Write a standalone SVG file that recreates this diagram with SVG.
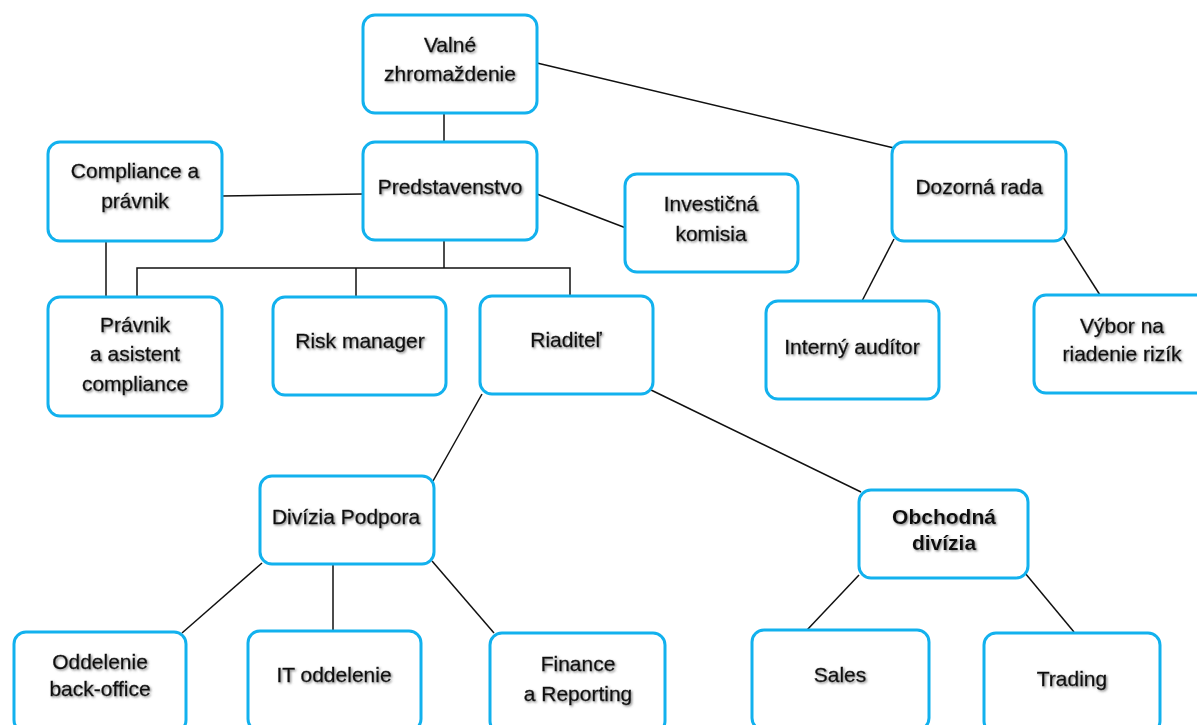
<svg xmlns="http://www.w3.org/2000/svg" width="1197" height="725" viewBox="0 0 1197 725">
<defs>
<filter id="sh" x="-10%" y="-30%" width="120%" height="160%">
<feDropShadow dx="1.3" dy="1.3" stdDeviation="0.8" flood-color="#6f6f6f" flood-opacity="0.85"/>
</filter>
<style>
.box{fill:#fff;stroke:#12B1EE;stroke-width:3}
.t{font-family:"Liberation Sans",Arial,sans-serif;font-size:21px;fill:#111;stroke:#111;stroke-width:0.35;text-anchor:middle;filter:url(#sh)}
.b{font-weight:bold;stroke-width:0}
.c{stroke:#111;stroke-width:1.5;fill:none}
</style>
</defs>
<rect width="1197" height="725" fill="#fff"/>
<g id="connectors">
<line class="c" x1="444" y1="113" x2="444" y2="142"/>
<line class="c" x1="537" y1="63" x2="894" y2="148"/>
<line class="c" x1="363" y1="194" x2="222" y2="196"/>
<line class="c" x1="537" y1="194" x2="626" y2="228"/>
<line class="c" x1="106" y1="241" x2="106" y2="297"/>
<polyline class="c" points="444,240 444,268"/>
<polyline class="c" points="137,297 137,268 570,268 570,297"/>
<line class="c" x1="356" y1="268" x2="356" y2="297"/>
<line class="c" x1="894" y1="239" x2="862" y2="301"/>
<line class="c" x1="1063" y1="237" x2="1100" y2="295"/>
<line class="c" x1="482" y1="394" x2="433" y2="481"/>
<line class="c" x1="651" y1="390" x2="861" y2="492"/>
<line class="c" x1="262" y1="563" x2="182" y2="633"/>
<line class="c" x1="333" y1="564" x2="333" y2="631"/>
<line class="c" x1="432" y1="561" x2="494" y2="633"/>
<line class="c" x1="859" y1="575" x2="807" y2="630"/>
<line class="c" x1="1025" y1="573" x2="1074" y2="632"/>
</g>
<g id="valne"><rect class="box" x="363" y="15" width="174" height="98" rx="12"/><text class="t" x="450" y="52">Valné</text><text class="t" x="450" y="81">zhromaždenie</text></g>
<g id="predstavenstvo"><rect class="box" x="363" y="142" width="174" height="98" rx="12"/><text class="t" x="450" y="194">Predstavenstvo</text></g>
<g id="compliance"><rect class="box" x="48" y="142" width="174" height="99" rx="12"/><text class="t" x="135" y="178">Compliance a</text><text class="t" x="135" y="208">právnik</text></g>
<g id="investicna"><rect class="box" x="625" y="174" width="173" height="98" rx="12"/><text class="t" x="711" y="211">Investičná</text><text class="t" x="711" y="241">komisia</text></g>
<g id="dozorna"><rect class="box" x="892" y="142" width="174" height="99" rx="12"/><text class="t" x="979" y="194">Dozorná rada</text></g>
<g id="pravnik"><rect class="box" x="48" y="297" width="174" height="119" rx="12"/><text class="t" x="135" y="332">Právnik</text><text class="t" x="135" y="361">a asistent</text><text class="t" x="135" y="391">compliance</text></g>
<g id="risk"><rect class="box" x="273" y="297" width="173" height="98" rx="12"/><text class="t" x="360" y="348">Risk manager</text></g>
<g id="riaditel"><rect class="box" x="480" y="296" width="173" height="98" rx="12"/><text class="t" x="566" y="347">Riaditeľ</text></g>
<g id="auditor"><rect class="box" x="766" y="301" width="173" height="98" rx="12"/><text class="t" x="852" y="354">Interný audítor</text></g>
<g id="vybor"><rect class="box" x="1034" y="295" width="175" height="98" rx="12"/><text class="t" x="1122" y="333">Výbor na</text><text class="t" x="1122" y="361">riadenie rizík</text></g>
<g id="podpora"><rect class="box" x="260" y="476" width="174" height="88" rx="12"/><text class="t" x="346" y="524">Divízia Podpora</text></g>
<g id="obchodna"><rect class="box" x="859" y="490" width="169" height="88" rx="12"/><text class="t b" x="944" y="524">Obchodná</text><text class="t b" x="944" y="550">divízia</text></g>
<g id="backoffice"><rect class="box" x="14" y="632" width="172" height="100" rx="12"/><text class="t" x="100" y="669">Oddelenie</text><text class="t" x="100" y="696">back-office</text></g>
<g id="it"><rect class="box" x="248" y="631" width="173" height="100" rx="12"/><text class="t" x="334" y="682">IT oddelenie</text></g>
<g id="finance"><rect class="box" x="490" y="633" width="175" height="100" rx="12"/><text class="t" x="578" y="671">Finance</text><text class="t" x="578" y="701">a Reporting</text></g>
<g id="sales"><rect class="box" x="752" y="630" width="177" height="100" rx="12"/><text class="t" x="840" y="682">Sales</text></g>
<g id="trading"><rect class="box" x="984" y="633" width="176" height="100" rx="12"/><text class="t" x="1072" y="686">Trading</text></g>
</svg>
